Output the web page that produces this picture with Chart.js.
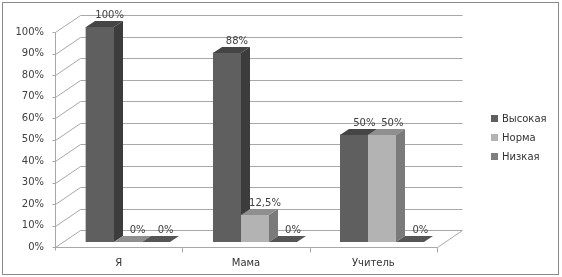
<!DOCTYPE html>
<html>
<head>
<meta charset="utf-8">
<script src="https://cdn.jsdelivr.net/npm/chart.js@4/dist/chart.umd.min.js"></script>
<style>
  html, body { margin: 0; padding: 0; background: #fff; }
  #wrap { position: relative; width: 562px; height: 277px; }
  #legend { position: absolute; left: 491px; top: 111px; font: 10px "DejaVu Sans", sans-serif; color: #333; }
  #legend div { height: 19px; line-height: 16px; white-space: nowrap; }
  #legend span { display: inline-block; width: 7px; height: 7px; margin-right: 4px; vertical-align: 0px; }
</style>
</head>
<body>
<div id="wrap">
  <canvas id="chart" width="562" height="277"></canvas>
  <div id="legend"></div>
</div>
<script>
// данные
const categories = ['Я', 'Мама', 'Учитель'];
const seriesNames = ['Высокая', 'Норма', 'Низкая'];
const vysokaya = [100, 88, 50];
const norma = [0, 12.5, 50];
const nizkaya = [0, 0, 0];

// цвета: лицевая грань, верх, бок
const fronts = ['#5f5f5f', '#b3b3b3', '#7f7f7f'];
const tops = ['#454545', '#8f8f8f', '#555555'];
const sides = ['#3c3c3c', '#7a7a7a', '#4a4a4a'];

const FONT = '"DejaVu Sans", sans-serif';
const dxBar = 9, dyBar = -6;     // глубина столбца
const frontX = -9, frontY = 5;   // передняя плоскость
const backX = 16, backY = -12;   // задняя стенка

function fmt(v) { return String(v).replace('.', ',') + '%'; }

const depth3d = {
  id: 'depth3d',
  beforeDraw(chart) {
    const ctx = chart.ctx;
    ctx.save();
    ctx.strokeStyle = '#8a8a8a';
    ctx.lineWidth = 1;
    ctx.strokeRect(2.5, 2.5, 556, 272);
    ctx.restore();
  },
  beforeDatasetsDraw(chart) {
    const { ctx, chartArea: a, scales: { y } } = chart;
    ctx.save();
    ctx.strokeStyle = '#a8a8a8';
    ctx.lineWidth = 1;
    const L = Math.round(a.left) + 0.5, R = Math.round(a.right) + 0.5;
    for (let v = 0; v <= 100; v += 10) {
      const py = Math.round(y.getPixelForValue(v)) + 0.5;
      ctx.beginPath();
      ctx.moveTo(L + frontX, py + frontY);
      ctx.lineTo(L + backX, py + backY);
      ctx.lineTo(R + backX, py + backY);
      ctx.moveTo(L + frontX - 3, py + frontY);
      ctx.lineTo(L + frontX, py + frontY);
      ctx.stroke();
    }
    const y0 = Math.round(y.getPixelForValue(0)) + 0.5;
    const y100 = Math.round(y.getPixelForValue(100)) + 0.5;
    ctx.beginPath();
    // передняя ось
    ctx.moveTo(L + frontX, y100 + frontY);
    ctx.lineTo(L + frontX, y0 + frontY + 3);
    // пол
    ctx.moveTo(L + frontX, y0 + frontY);
    ctx.lineTo(R + frontX, y0 + frontY);
    ctx.lineTo(R + backX, y0 + backY);
    // деления категорий
    const w = (a.right - a.left) / categories.length;
    for (let i = 1; i <= categories.length; i++) {
      const x = Math.round(a.left + w * i) + 0.5 + frontX;
      ctx.moveTo(x, y0 + frontY);
      ctx.lineTo(x, y0 + frontY + 5);
    }
    ctx.stroke();
    ctx.restore();
  },
  afterDatasetsDraw(chart) {
    const ctx = chart.ctx;
    ctx.save();
    chart.data.datasets.forEach((ds, di) => {
      const meta = chart.getDatasetMeta(di);
      meta.data.forEach((bar) => {
        const l = Math.round(bar.x - bar.width / 2), r = Math.round(bar.x + bar.width / 2);
        const t = Math.round(bar.y), b = Math.round(bar.base);
        ctx.fillStyle = fronts[di];
        ctx.fillRect(l, t, r - l, b - t);
        // верх
        ctx.fillStyle = tops[di];
        ctx.beginPath();
        ctx.moveTo(l, t);
        ctx.lineTo(l + dxBar, t + dyBar);
        ctx.lineTo(r + dxBar, t + dyBar);
        ctx.lineTo(r, t);
        ctx.closePath();
        ctx.fill();
        // бок
        ctx.fillStyle = sides[di];
        ctx.beginPath();
        ctx.moveTo(r, t);
        ctx.lineTo(r + dxBar, t + dyBar);
        ctx.lineTo(r + dxBar, b + dyBar);
        ctx.lineTo(r, b);
        ctx.closePath();
        ctx.fill();
      });
    });
    // подписи значений
    ctx.font = '10px ' + FONT;
    ctx.fillStyle = '#404040';
    ctx.textAlign = 'center';
    ctx.textBaseline = 'alphabetic';
    chart.data.datasets.forEach((ds, di) => {
      chart.getDatasetMeta(di).data.forEach((bar, i) => {
        ctx.fillText(fmt(ds.data[i]), bar.x + 10, bar.y - 9);
      });
    });
    ctx.restore();
  }
};

new Chart(document.getElementById('chart'), {
  type: 'bar',
  data: {
    labels: categories,
    datasets: [
      { label: seriesNames[0], data: vysokaya, backgroundColor: fronts[0] },
      { label: seriesNames[1], data: norma, backgroundColor: fronts[1] },
      { label: seriesNames[2], data: nizkaya, backgroundColor: fronts[2] }
    ]
  },
  options: {
    responsive: false,
    animation: false,
    layout: { padding: { left: 0, top: 27, right: 116, bottom: 0 } },
    datasets: { bar: { categoryPercentage: 0.66, barPercentage: 1.0 } },
    plugins: { legend: { display: false }, tooltip: { enabled: false } },
    scales: {
      x: {
        grid: { display: false },
        border: { display: false },
        ticks: { font: { family: FONT, size: 10 }, color: '#333', padding: 7, labelOffset: -9 },
        afterFit(scale) { scale.height = 35; }
      },
      y: {
        min: 0, max: 100,
        grid: { display: false },
        border: { display: false },
        ticks: { stepSize: 10, font: { family: FONT, size: 10 }, color: '#404040', padding: 12, labelOffset: 5,
          callback: (v) => v + '%' },
        afterFit(scale) { scale.width = 64; }
      }
    }
  },
  plugins: [depth3d]
});

const legend = document.getElementById('legend');
seriesNames.forEach((name, i) => {
  const row = document.createElement('div');
  const sw = document.createElement('span');
  sw.style.background = fronts[i];
  row.appendChild(sw);
  row.appendChild(document.createTextNode(name));
  legend.appendChild(row);
});
</script>
</body>
</html>
